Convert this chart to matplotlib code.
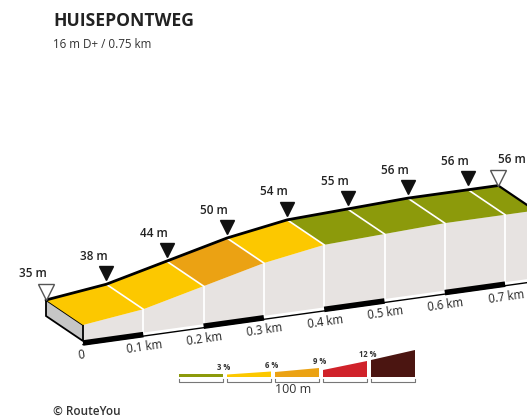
import numpy as np
import matplotlib
matplotlib.use("Agg")
import matplotlib.pyplot as plt
from matplotlib.patches import Polygon
from matplotlib.transforms import Affine2D
import math

# ---------------- data ----------------
title = "HUISEPONTWEG"
subtitle = "16 m D+ / 0.75 km"
dist_km = [0.0, 0.1, 0.2, 0.3, 0.4, 0.5, 0.6, 0.7, 0.75]
elev_m = [35, 38, 44, 50, 54, 55, 56, 56, 56]
# gradient class of every segment (0=<3%, 1=3-6%, 2=6-9%, 3=9-12%, 4=>12%)
segment_class = [1, 1, 2, 1, 0, 0, 0, 0]
tick_km = [0.0, 0.1, 0.2, 0.3, 0.4, 0.5, 0.6, 0.7]
tick_labels = ["0", "0.1 km", "0.2 km", "0.3 km", "0.4 km", "0.5 km", "0.6 km", "0.7 km"]
legend_labels = ["3 %", "6 %", "9 %", "12 %", ""]
legend_scale_label = "100 m"
credit = "© RouteYou"

# ---------------- style ----------------
class_colors = ["#8C9A0B", "#FCC800", "#EBA213", "#D0222A", "#4B1511"]
wall_color = "#E7E3E1"
side_color = "#C6C6C6"
txt = "#222222"
plt.rcParams['font.family'] = ['Open Sans', 'DejaVu Sans']

W, H = 527, 419
fig = plt.figure(figsize=(W / 100, H / 100), dpi=100)
ax = fig.add_axes([0, 0, 1, 1])
ax.set_xlim(0, W)
ax.set_ylim(H, 0)
ax.axis('off')

# oblique projection (distance km, elevation m) -> canvas
X0, KX, DX = 46.0, 603.0, 37.0
Y0, KY, DY = 316.0, 84.0, 25.0
KZ = 2.45
ZBASE = 35 - 16 / KZ
back = Affine2D(np.array([[KX, 0, X0], [-KY, -KZ, Y0 + ZBASE * KZ], [0, 0, 1]]))
front = back + Affine2D().translate(DX, DY)

d = np.array(dist_km)
z = np.array(elev_m, dtype=float)
B = back.transform(np.column_stack([d, z]))
F = front.transform(np.column_stack([d, z]))
Fb = front.transform(np.column_stack([d, np.full_like(d, ZBASE)]))
Bb = back.transform(np.column_stack([d, np.full_like(d, ZBASE)]))

# front wall
wall = np.vstack([F, Fb[::-1]])
ax.add_patch(Polygon(wall, closed=True, fc=wall_color, ec='none', zorder=1))
for i in range(1, len(d) - 1):
    ax.plot([F[i, 0], Fb[i, 0]], [F[i, 1], Fb[i, 1]], color='white', lw=1.3, zorder=2)

# left side face
side = np.array([B[0], F[0], Fb[0], Bb[0]])
ax.add_patch(Polygon(side, closed=True, fc=side_color, ec='black', lw=1.3,
                     joinstyle='miter', zorder=3))

# top surface
for i, c in enumerate(segment_class):
    poly = np.array([B[i], B[i + 1], F[i + 1], F[i]])
    ax.add_patch(Polygon(poly, closed=True, fc=class_colors[c], ec='none', zorder=3))
for i in range(1, len(d) - 1):
    ax.plot([B[i, 0], F[i, 0]], [B[i, 1], F[i, 1]], color='white', lw=1.2, zorder=4)

# profile line and end edge
ax.plot(B[:, 0], B[:, 1], color='black', lw=2.0, solid_capstyle='round', zorder=5)
ax.plot([B[-1, 0], F[-1, 0]], [B[-1, 1], F[-1, 1]], color='black', lw=1.6, zorder=5)

# bottom lines
ax.plot(Fb[:, 0], Fb[:, 1] + 3.5, color='black', lw=1.0, zorder=2)
for i in range(0, len(tick_km) - 1, 2):
    ax.plot([Fb[i, 0], Fb[i + 1, 0]], [Fb[i, 1] + 2.0, Fb[i + 1, 1] + 2.0],
            color='black', lw=4.0, solid_capstyle='butt', zorder=2)

# km labels
rot = math.degrees(math.atan(KY / KX))
T = front.transform(np.column_stack([tick_km, np.full(len(tick_km), ZBASE)]))
for (x, y), lab in zip(T, tick_labels):
    ax.text(x - (3 if lab == "0" else 0), y + 8, lab, fontsize=8.3, color=txt,
            rotation=rot, rotation_mode='anchor', ha='center', va='top', zorder=6)

# markers
tri_h = 12.5
for i in range(len(d)):
    x, y = B[i]
    lab = f"{elev_m[i]} m"
    if i == 0 or i == len(d) - 1:
        ax.plot([x], [y - 8], marker='v', ms=11, mfc='white', mec='#555555', mew=1.0,
                zorder=7, clip_on=False)
        top = y - 16
    else:
        ax.plot([x], [y - 5 - tri_h / 2], marker='v', ms=9.5, color='#111111',
                zorder=7)
        top = y - 5 - tri_h
    if i == len(d) - 1:
        ax.text(x, top - 4, lab, fontsize=8.5, color=txt, ha='left', va='bottom',
                fontweight='semibold', zorder=7)
    else:
        ax.text(x + 1, top - 4, lab, fontsize=8.5, color=txt, ha='right', va='bottom',
                fontweight='semibold', zorder=7)

# titles
ax.text(53, 12, title, fontsize=12.6, fontweight='bold', color=txt, ha='left', va='top')
ax.text(53, 38.5, subtitle, fontsize=8.4, color='#333333', ha='left', va='top')

# legend
LX0, LSTEP, LW, LBOT = 179, 48, 44, 377
wedge_heights = [(3.5, 3.5), (2.5, 5.5), (5, 9), (7, 16), (17, 27)]
for k, (lab, col, (hl, hr)) in enumerate(zip(legend_labels, class_colors, wedge_heights)):
    x0 = LX0 + k * LSTEP
    x1 = x0 + LW
    ax.add_patch(Polygon([[x0, LBOT], [x1, LBOT], [x1, LBOT - hr], [x0, LBOT - hl]],
                         closed=True, fc=col, ec='none'))
    ax.plot([x0, x0, x1, x1], [LBOT + 2, LBOT + 4.5, LBOT + 4.5, LBOT + 2],
            color='#777777', lw=0.8)
    if lab:
        ax.text(x1 + 1, LBOT - hr - 2, lab, fontsize=5.5, fontweight='bold',
                color='#333333', ha='center', va='bottom')
ax.text(LX0 + 2 * LSTEP + LW / 2 - 4, LBOT + 6, legend_scale_label, fontsize=9,
        color='#333333', ha='center', va='top')

ax.text(53, 405, credit, fontsize=8.5, fontweight='semibold', color='#333333',
        ha='left', va='top')

fig.savefig("out.png", dpi=100)
